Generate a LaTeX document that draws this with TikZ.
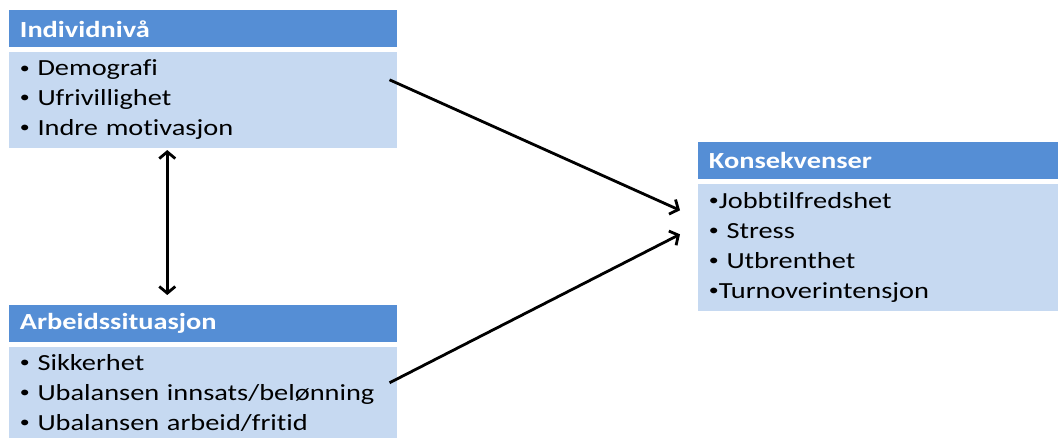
\documentclass[tikz,border=0pt]{standalone}
\usepackage{fontspec}
\setmainfont{Carlito}[FakeStretch=1.23, Ligatures=NoCommon]
\usetikzlibrary{arrows.meta,positioning}
\definecolor{headblue}{HTML}{558ED5}
\definecolor{bodyblue}{HTML}{C6D9F1}
\newcommand{\blt}{\raisebox{0.25ex}{\scalebox{0.7}{•}}}

\begin{document}
\begin{tikzpicture}[x=0.75pt,y=-0.75pt,
  headbox/.style={fill=headblue, text=white, anchor=north west, align=left,
    font=\fontsize{17.3}{20}\selectfont\bfseries, minimum height=27.75pt,
    inner xsep=8pt, inner ysep=0pt},
  listbox/.style={fill=bodyblue, anchor=north west, align=left,
    font=\fontsize{17.3}{22.5}\selectfont, inner xsep=8pt, inner ysep=0pt},
  conn/.style={line width=2.1pt, -{Straight Barb[length=5pt,width=12pt]}}]
  \useasboundingbox (0,0) rectangle (1058,438);

  % --- Individniva ---
  \node[headbox, text width=275pt] (indhead) at (9,10) {Individnivå};
  \node[listbox, text width=275pt, minimum height=72pt, below=3pt of indhead] (indlist)
    {\blt{} Demografi\\\blt{} Ufrivillighet\\\blt{} Indre motivasjon};

  % --- Arbeidssituasjon ---
  \node[headbox, text width=275pt] (arbhead) at (9,305) {Arbeidssituasjon};
  \node[listbox, text width=275pt, minimum height=69pt, below=3pt of arbhead] (arblist)
    {\blt{} Sikkerhet\\\blt{} Ubalansen innsats/belønning\\\blt{} Ubalansen arbeid/fritid};

  % --- Konsekvenser ---
  \node[headbox, text width=254pt] (konhead) at (698,142) {Konsekvenser};
  \node[listbox, text width=254pt, minimum height=95.25pt, below=3pt of konhead] (konlist)
    {\blt Jobbtilfredshet\\\blt{} Stress\\\blt{} Utbrenthet\\\blt Turnoverintensjon};

  % Arrows
  \draw[conn] ([shift={(-8,-20)}]indlist.east) -- ([shift={(-18,-37)}]konlist.west);
  \draw[conn] ([shift={(-8,-10)}]arblist.east) -- ([shift={(-18,-13)}]konlist.west);
  \draw[conn, {Straight Barb[length=5pt,width=12pt]}-{Straight Barb[length=5pt,width=12pt]}]
    ([shift={(-36,2)}]indlist.south) -- ([shift={(-36,-10)}]arbhead.north);
\end{tikzpicture}
\end{document}
